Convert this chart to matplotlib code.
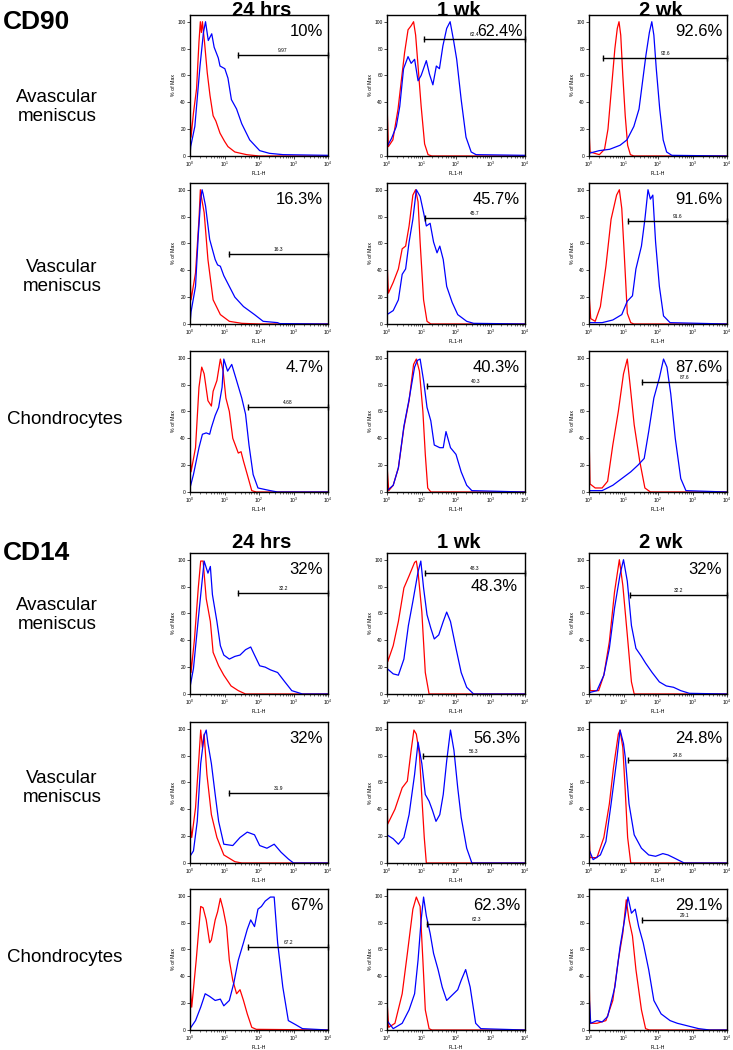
import numpy as np
import matplotlib
matplotlib.use("Agg")
from matplotlib import pyplot as plt

plt.rcParams['font.family'] = ['Liberation Sans', 'DejaVu Sans']

# histogram traces: (log10 of FL1-H, % of max)
# CD90
cd90_av_24h_red = [(0, 36), (0.03, 14), (0.1, 32), (0.19, 50), (0.26, 85), (0.3, 100), (0.33, 92), (0.36, 100), (0.42, 85), (0.5, 62), (0.58, 45), (0.67, 30), (0.75, 26), (0.87, 17), (1.0, 11), (1.1, 7), (1.3, 3), (1.64, 1), (2.0, 0), (4, 0)]
cd90_av_24h_blue = [(0, 0), (0.02, 7), (0.14, 22), (0.29, 67), (0.39, 92), (0.45, 100), (0.53, 86), (0.63, 91), (0.7, 81), (0.82, 73), (0.87, 67), (1.01, 65), (1.1, 58), (1.2, 42), (1.35, 35), (1.5, 24), (1.73, 12), (2.02, 4), (2.3, 2), (2.7, 1), (4, 0.5)]
cd90_av_1wk_red = [(0, 40), (0.04, 7), (0.17, 12), (0.32, 35), (0.41, 55), (0.51, 77), (0.61, 94), (0.7, 97), (0.77, 100), (0.83, 90), (0.9, 67), (0.99, 37), (1.09, 9), (1.19, 1), (1.3, 0), (4, 0)]
cd90_av_1wk_blue = [(0, 7), (0.13, 13), (0.27, 22), (0.37, 37), (0.48, 65), (0.61, 74), (0.7, 69), (0.8, 72), (0.9, 56), (0.99, 60), (1.14, 71), (1.23, 61), (1.33, 53), (1.43, 67), (1.52, 65), (1.62, 82), (1.73, 95), (1.83, 100), (1.93, 86), (2.02, 72), (2.15, 42), (2.29, 14), (2.44, 3), (2.58, 1), (4, 0.5)]
cd90_av_2wk_red = [(0, 20), (0.03, 3), (0.3, 1), (0.45, 5), (0.55, 20), (0.65, 50), (0.75, 80), (0.82, 95), (0.87, 100), (0.92, 90), (0.98, 60), (1.05, 30), (1.12, 8), (1.2, 1), (1.3, 0), (4, 0)]
cd90_av_2wk_blue = [(0, 2), (0.3, 4), (0.6, 5), (0.9, 8), (1.1, 12), (1.3, 22), (1.45, 35), (1.55, 55), (1.65, 75), (1.75, 92), (1.82, 100), (1.88, 90), (1.95, 65), (2.05, 35), (2.15, 12), (2.25, 3), (2.4, 0.5), (4, 0)]

cd90_va_24h_red = [(0, 36), (0.03, 18), (0.16, 38), (0.26, 78), (0.3, 100), (0.34, 93), (0.41, 83), (0.52, 48), (0.67, 18), (0.88, 7), (1.14, 2), (1.5, 0.5), (2.0, 0), (4, 0)]
cd90_va_24h_blue = [(0, 0), (0.03, 9), (0.16, 28), (0.24, 66), (0.31, 93), (0.35, 100), (0.38, 97), (0.45, 88), (0.57, 63), (0.73, 48), (0.8, 44), (0.88, 43), (0.98, 36), (1.14, 28), (1.3, 20), (1.55, 13), (1.87, 7), (2.12, 2), (2.54, 1), (2.6, 0.3), (4, 0)]
cd90_va_1wk_red = [(0, 48), (0.04, 23), (0.18, 31), (0.33, 41), (0.44, 56), (0.54, 58), (0.64, 73), (0.75, 96), (0.83, 100), (0.9, 91), (0.96, 61), (1.06, 18), (1.16, 2), (1.27, 0), (4, 0)]
cd90_va_1wk_blue = [(0, 7), (0.18, 10), (0.33, 18), (0.44, 37), (0.54, 41), (0.64, 61), (0.75, 78), (0.85, 100), (0.96, 95), (1.06, 83), (1.14, 73), (1.25, 75), (1.35, 61), (1.45, 53), (1.53, 58), (1.63, 48), (1.73, 28), (1.89, 16), (2.05, 7), (2.31, 2), (2.51, 0.5), (4, 0)]
cd90_va_2wk_red = [(0, 23), (0.05, 4), (0.18, 2), (0.33, 13), (0.49, 43), (0.64, 78), (0.8, 96), (0.88, 100), (0.95, 86), (1.02, 53), (1.11, 8), (1.21, 1), (1.3, 0), (4, 0)]
cd90_va_2wk_blue = [(0, 1), (0.38, 1), (0.69, 3), (0.95, 7), (1.11, 17), (1.26, 21), (1.36, 41), (1.52, 58), (1.62, 78), (1.71, 100), (1.78, 93), (1.85, 96), (1.93, 61), (2.04, 28), (2.16, 6), (2.35, 1), (4, 0)]

cd90_ch_24h_red = [(0, 35), (0.03, 15), (0.16, 33), (0.26, 78), (0.34, 93), (0.41, 88), (0.52, 68), (0.62, 64), (0.67, 75), (0.78, 83), (0.88, 99), (0.96, 90), (1.04, 70), (1.14, 60), (1.24, 40), (1.4, 29), (1.48, 30), (1.55, 23), (1.66, 13), (1.79, 1), (1.92, 0), (4, 0)]
cd90_ch_24h_blue = [(0, 3), (0.1, 13), (0.26, 33), (0.36, 43), (0.47, 44), (0.57, 43), (0.62, 48), (0.73, 57), (0.83, 63), (0.93, 78), (0.98, 99), (1.09, 90), (1.21, 95), (1.35, 83), (1.5, 70), (1.61, 58), (1.71, 35), (1.83, 13), (1.97, 3), (2.33, 1), (2.54, 0), (4, 0)]
cd90_ch_1wk_red = [(0, 20), (0.05, 1), (0.18, 5), (0.33, 18), (0.49, 48), (0.64, 68), (0.77, 95), (0.85, 99), (0.94, 90), (1.04, 60), (1.11, 28), (1.18, 3), (1.27, 0), (4, 0)]
cd90_ch_1wk_blue = [(0, 1), (0.18, 5), (0.33, 18), (0.49, 49), (0.64, 69), (0.8, 93), (0.88, 98), (0.96, 99), (1.06, 83), (1.16, 63), (1.27, 53), (1.37, 35), (1.53, 33), (1.63, 33), (1.71, 45), (1.84, 33), (2.0, 28), (2.15, 15), (2.31, 5), (2.46, 1), (4, 0)]
cd90_ch_2wk_red = [(0, 45), (0.03, 6), (0.18, 3), (0.38, 3), (0.54, 8), (0.69, 35), (0.85, 60), (1.0, 88), (1.11, 99), (1.19, 80), (1.31, 50), (1.47, 23), (1.62, 3), (1.78, 0), (4, 0)]
cd90_ch_2wk_blue = [(0, 1), (0.38, 1), (0.69, 5), (0.95, 10), (1.21, 15), (1.42, 20), (1.6, 25), (1.73, 45), (1.88, 70), (2.04, 85), (2.16, 99), (2.26, 93), (2.37, 73), (2.5, 40), (2.66, 10), (2.81, 1), (4, 0)]

# CD14
cd14_av_24h_red = [(0, 39), (0.03, 16), (0.13, 41), (0.24, 79), (0.31, 99), (0.38, 99), (0.47, 71), (0.59, 54), (0.67, 31), (0.83, 21), (0.98, 14), (1.19, 6), (1.4, 2.5), (1.61, 0), (4, 0)]
cd14_av_24h_blue = [(0, 5), (0.1, 19), (0.26, 61), (0.41, 99), (0.52, 90), (0.59, 95), (0.65, 74), (0.78, 54), (0.88, 36), (0.98, 29), (1.14, 26), (1.3, 28), (1.45, 29), (1.61, 33), (1.76, 35), (1.87, 29), (2.02, 21), (2.18, 20), (2.33, 18), (2.54, 16), (2.75, 9), (2.95, 2.5), (3.26, 0), (4, 0)]
cd14_av_1wk_red = [(0, 44), (0.02, 24), (0.18, 36), (0.33, 54), (0.49, 79), (0.64, 88), (0.8, 98), (0.85, 99), (0.9, 91), (1.01, 61), (1.11, 16), (1.22, 0), (4, 0)]
cd14_av_1wk_blue = [(0, 19), (0.18, 15), (0.33, 14), (0.49, 26), (0.62, 51), (0.75, 69), (0.9, 91), (0.98, 99), (1.06, 79), (1.16, 59), (1.27, 49), (1.37, 41), (1.5, 44), (1.63, 54), (1.73, 61), (1.84, 54), (2.0, 34), (2.15, 16), (2.31, 5), (2.51, 0), (4, 0)]
cd14_av_2wk_red = [(0, 19), (0.03, 2.5), (0.28, 2.5), (0.43, 14), (0.59, 39), (0.74, 76), (0.88, 100), (0.98, 81), (1.11, 44), (1.23, 9), (1.31, 0), (4, 0)]
cd14_av_2wk_blue = [(0, 1), (0.23, 2.5), (0.43, 14), (0.59, 34), (0.74, 64), (0.9, 89), (1.0, 100), (1.11, 84), (1.23, 51), (1.36, 34), (1.52, 28), (1.64, 23), (1.83, 16), (2.04, 9), (2.24, 6), (2.45, 5), (2.66, 2.5), (2.91, 0.5), (4, 0)]

cd14_va_24h_red = [(0, 31), (0.05, 19), (0.16, 41), (0.26, 79), (0.31, 99), (0.36, 86), (0.41, 96), (0.49, 66), (0.62, 36), (0.78, 19), (0.98, 6), (1.3, 1), (1.5, 0), (4, 0)]
cd14_va_24h_blue = [(0, 5), (0.1, 9), (0.21, 31), (0.31, 74), (0.41, 95), (0.47, 99), (0.52, 89), (0.62, 74), (0.73, 51), (0.83, 31), (0.98, 14), (1.24, 13), (1.45, 19), (1.66, 23), (1.87, 21), (2.02, 13), (2.23, 11), (2.44, 14), (2.64, 8), (2.85, 3), (3.0, 0), (4, 0)]
cd14_va_1wk_red = [(0, 49), (0.02, 29), (0.23, 40), (0.44, 56), (0.59, 61), (0.7, 84), (0.78, 99), (0.85, 96), (0.94, 81), (1.01, 49), (1.08, 19), (1.14, 0), (4, 0)]
cd14_va_1wk_blue = [(0, 21), (0.18, 18), (0.33, 14), (0.49, 19), (0.64, 36), (0.8, 66), (0.9, 90), (1.01, 74), (1.11, 51), (1.22, 46), (1.32, 39), (1.42, 31), (1.53, 36), (1.63, 51), (1.73, 76), (1.84, 99), (1.94, 84), (2.05, 56), (2.15, 34), (2.31, 11), (2.46, 0), (4, 0)]
cd14_va_2wk_red = [(0, 26), (0.03, 4), (0.23, 4), (0.43, 19), (0.59, 44), (0.71, 71), (0.85, 96), (0.9, 99), (0.98, 86), (1.05, 54), (1.12, 19), (1.21, 0), (4, 0)]
cd14_va_2wk_blue = [(0, 10), (0.12, 2.5), (0.33, 6), (0.49, 16), (0.64, 44), (0.8, 76), (0.9, 99), (1.0, 89), (1.05, 79), (1.16, 44), (1.31, 21), (1.52, 11), (1.73, 6), (1.93, 5), (2.14, 7), (2.29, 6), (2.45, 4), (2.76, 0), (4, 0)]

cd14_ch_24h_red = [(0, 35), (0.05, 17), (0.18, 52), (0.31, 92), (0.38, 91), (0.47, 82), (0.57, 65), (0.62, 67), (0.73, 82), (0.8, 88), (0.88, 98), (0.96, 90), (1.06, 77), (1.14, 52), (1.24, 37), (1.35, 27), (1.45, 30), (1.55, 22), (1.66, 12), (1.79, 2), (1.92, 0.5), (4, 0)]
cd14_ch_24h_blue = [(0, 1), (0.16, 7), (0.31, 17), (0.44, 27), (0.57, 25), (0.73, 22), (0.88, 23), (0.98, 18), (1.14, 22), (1.27, 35), (1.4, 52), (1.55, 65), (1.66, 75), (1.76, 82), (1.87, 77), (1.97, 90), (2.07, 92), (2.18, 96), (2.33, 99), (2.44, 99), (2.54, 65), (2.69, 32), (2.85, 7), (3.06, 4), (3.26, 1), (4, 0)]
cd14_ch_1wk_red = [(0, 22), (0.05, 2), (0.23, 5), (0.44, 27), (0.59, 57), (0.75, 90), (0.85, 99), (0.96, 92), (1.04, 52), (1.11, 15), (1.22, 1), (1.3, 0), (4, 0)]
cd14_ch_1wk_blue = [(0, 7), (0.18, 1), (0.44, 5), (0.64, 15), (0.8, 27), (0.9, 52), (0.99, 82), (1.06, 99), (1.14, 85), (1.25, 72), (1.35, 57), (1.48, 45), (1.6, 32), (1.73, 22), (1.89, 26), (2.05, 30), (2.15, 37), (2.28, 45), (2.41, 32), (2.57, 5), (2.72, 1), (4, 0)]
cd14_ch_2wk_red = [(0, 46), (0.03, 5), (0.23, 5), (0.49, 7), (0.69, 22), (0.85, 52), (0.98, 72), (1.08, 97), (1.16, 82), (1.26, 70), (1.36, 45), (1.52, 15), (1.64, 1), (1.75, 0), (4, 0)]
cd14_ch_2wk_blue = [(0, 27), (0.05, 5), (0.23, 7), (0.38, 6), (0.54, 10), (0.75, 32), (0.9, 62), (1.03, 82), (1.13, 99), (1.23, 87), (1.34, 90), (1.44, 77), (1.57, 65), (1.73, 45), (1.88, 22), (2.09, 12), (2.35, 7), (2.56, 5), (2.87, 3), (3.18, 1), (3.5, 0), (4, 0)]

# labels per panel, row by row
pct_labels = ["10%", "62.4%", "92.6%",
              "16.3%", "45.7%", "91.6%",
              "4.7%", "40.3%", "87.6%",
              "32%", "48.3%", "32%",
              "32%", "56.3%", "24.8%",
              "67%", "62.3%", "29.1%"]
gate_labels = ["9.97", "62.4", "92.6",
               "16.3", "45.7", "91.6",
               "4.68", "40.3", "87.6",
               "32.2", "48.3", "32.2",
               "31.9", "56.3", "24.8",
               "67.2", "62.3", "29.1"]
gate_start = [1.39, 1.07, 0.42,
              1.14, 1.09, 1.13,
              1.69, 1.16, 1.55,
              1.40, 1.11, 1.20,
              1.14, 1.04, 1.12,
              1.69, 1.16, 1.55]
gate_height = [75, 87, 73,
               52, 79, 77,
               63, 79, 82,
               75, 90, 74,
               52, 80, 77,
               62, 79, 82]

red_traces = [cd90_av_24h_red, cd90_av_1wk_red, cd90_av_2wk_red,
              cd90_va_24h_red, cd90_va_1wk_red, cd90_va_2wk_red,
              cd90_ch_24h_red, cd90_ch_1wk_red, cd90_ch_2wk_red,
              cd14_av_24h_red, cd14_av_1wk_red, cd14_av_2wk_red,
              cd14_va_24h_red, cd14_va_1wk_red, cd14_va_2wk_red,
              cd14_ch_24h_red, cd14_ch_1wk_red, cd14_ch_2wk_red]
blue_traces = [cd90_av_24h_blue, cd90_av_1wk_blue, cd90_av_2wk_blue,
               cd90_va_24h_blue, cd90_va_1wk_blue, cd90_va_2wk_blue,
               cd90_ch_24h_blue, cd90_ch_1wk_blue, cd90_ch_2wk_blue,
               cd14_av_24h_blue, cd14_av_1wk_blue, cd14_av_2wk_blue,
               cd14_va_24h_blue, cd14_va_1wk_blue, cd14_va_2wk_blue,
               cd14_ch_24h_blue, cd14_ch_1wk_blue, cd14_ch_2wk_blue]

col_titles = ["24 hrs", "1 wk", "2 wk"]
markers = ["CD90", "CD14"]
row_names = ["Avascular\nmeniscus", "Vascular\nmeniscus", "Chondrocytes"]

W, H = 733, 1050
fig = plt.figure(figsize=(W / 100, H / 100), dpi=100)

col_left = [190, 387, 589]
row_top = [15, 183, 351, 553, 722, 889]
box_w, box_h = 138, 141


def fx(px):
    return px / W


def fy(py):
    return 1 - py / H


for i in range(18):
    r, c = divmod(i, 3)
    ax = fig.add_axes([fx(col_left[c]), fy(row_top[r] + box_h), box_w / W, box_h / H])
    red = np.array(red_traces[i])
    blue = np.array(blue_traces[i])
    ax.plot(10 ** red[:, 0], red[:, 1], color="#ff0000", lw=0.9)
    ax.plot(10 ** blue[:, 0], blue[:, 1], color="#0000ff", lw=0.9)
    ax.set_xscale("log")
    ax.set_xlim(1, 1e4)
    ax.set_ylim(0, 105)
    ax.set_yticks([0, 20, 40, 60, 80, 100])
    ax.set_xticks([1, 10, 100, 1000, 10000])
    ax.tick_params(labelsize=3.5, length=2, width=0.5, pad=1)
    ax.tick_params(which="minor", length=1.2, width=0.4)
    ax.set_ylabel("% of Max", fontsize=3.8, labelpad=1)
    ax.set_xlabel("FL1-H", fontsize=3.8, labelpad=1)
    for s in ax.spines.values():
        s.set_linewidth(1.0)

    # gate marker
    g0 = 10 ** gate_start[i]
    gy = gate_height[i]
    ax.plot([g0, 1e4], [gy, gy], color="black", lw=1.0, clip_on=False)
    ax.plot([g0, 1e4], [gy, gy], "|", color="black", ms=4, mew=1.0, clip_on=False)
    ax.text(10 ** ((gate_start[i] + 4) / 2), gy + 1.5, gate_labels[i],
            fontsize=3.5, ha="center", va="bottom")

    if pct_labels[i] == "48.3%":
        ax.text(0.95, 0.76, pct_labels[i], transform=ax.transAxes,
                fontsize=12, ha="right", va="center")
    elif i == 1:
        # sits right beside the small gate label, as in the original
        ax.text(0.985, 0.935, pct_labels[i], transform=ax.transAxes,
                fontsize=11.5, ha="right", va="top")
    else:
        ax.text(0.965, 0.935, pct_labels[i], transform=ax.transAxes,
                fontsize=12, ha="right", va="top")

# column headings
for block, top in enumerate([15.5, 548]):
    for c, t in enumerate(col_titles):
        fig.text(fx(col_left[c] + box_w / 2 + 3), fy(top), t,
                 fontsize=14.5, fontweight="bold", ha="center", va="baseline")

# marker names and row names
fig.text(fx(3), fy(22), markers[0], fontsize=19, fontweight="bold", ha="left", va="center")
fig.text(fx(3), fy(553), markers[1], fontsize=19, fontweight="bold", ha="left", va="center")
row_y = [[107, 277, 420], [615, 788, 957]]
row_x = [57, 62, 65]
for b in range(2):
    for k, name in enumerate(row_names):
        fig.text(fx(row_x[k]), fy(row_y[b][k]), name, fontsize=13.5,
                 ha="center", va="center", multialignment="center", linespacing=1.1)

plt.savefig("out.png", dpi=100)
